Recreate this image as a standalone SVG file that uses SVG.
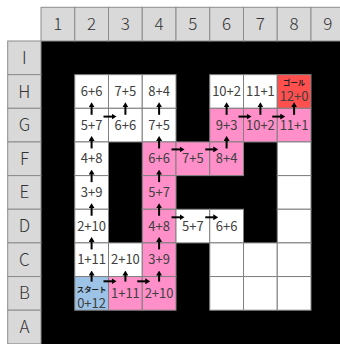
<svg xmlns="http://www.w3.org/2000/svg" width="340" height="344" viewBox="0 0 340 344">
<style>
.hd{fill:#d9d9d9;stroke:#8c8c8c;stroke-width:1}
.hl{font-family:"Noto Sans CJK JP","Noto Sans",sans-serif;font-size:17px;font-weight:300;fill:#333;text-anchor:middle}
.w{fill:#ffffff;stroke:#808080;stroke-width:1}
.p{fill:#ff8fc9;stroke:#808080;stroke-width:1}
.s{fill:#9dc3e6;stroke:#808080;stroke-width:1}
.g{fill:#ff4f4f;stroke:#808080;stroke-width:1}
.t{font-family:"Noto Sans CJK JP","Noto Sans",sans-serif;font-size:13px;fill:#404040;text-anchor:middle}
.j{font-family:"Noto Sans CJK JP",sans-serif;font-size:7.4px;font-weight:bold;fill:#222;text-anchor:middle}
.a{stroke:#000;stroke-width:2;fill:none;marker-end:url(#ah)}
</style>
<defs>
<marker id="ah" viewBox="0 0 5 6" refX="0.5" refY="3" markerWidth="5" markerHeight="6" markerUnits="userSpaceOnUse" orient="auto">
<path d="M0,0 L5,3 L0,6 z" fill="#000"/>
</marker>
</defs>
<rect x="0" y="0" width="340" height="344" fill="#fff"/>
<rect x="41" y="41" width="299" height="303" fill="#000"/>
<g id="col-headers">
<rect class="hd" x="41" y="7.3" width="33.75" height="33.7"/>
<rect class="hd" x="74.75" y="7.3" width="33.75" height="33.7"/>
<rect class="hd" x="108.5" y="7.3" width="33.75" height="33.7"/>
<rect class="hd" x="142.25" y="7.3" width="33.75" height="33.7"/>
<rect class="hd" x="176" y="7.3" width="33.75" height="33.7"/>
<rect class="hd" x="209.75" y="7.3" width="33.75" height="33.7"/>
<rect class="hd" x="243.5" y="7.3" width="33.75" height="33.7"/>
<rect class="hd" x="277.25" y="7.3" width="33.75" height="33.7"/>
<rect class="hd" x="311" y="7.3" width="33.75" height="33.7"/>
<text class="hl" x="57.9" y="30.2">1</text>
<text class="hl" x="91.6" y="30.2">2</text>
<text class="hl" x="125.4" y="30.2">3</text>
<text class="hl" x="159.1" y="30.2">4</text>
<text class="hl" x="192.9" y="30.2">5</text>
<text class="hl" x="226.6" y="30.2">6</text>
<text class="hl" x="260.4" y="30.2">7</text>
<text class="hl" x="294.1" y="30.2">8</text>
<text class="hl" x="327.9" y="30.2">9</text>
</g>
<g id="row-headers">
<rect class="hd" x="7.7" y="41" width="33.3" height="33.65"/>
<rect class="hd" x="7.7" y="74.65" width="33.3" height="33.65"/>
<rect class="hd" x="7.7" y="108.3" width="33.3" height="33.65"/>
<rect class="hd" x="7.7" y="141.95" width="33.3" height="33.65"/>
<rect class="hd" x="7.7" y="175.6" width="33.3" height="33.65"/>
<rect class="hd" x="7.7" y="209.25" width="33.3" height="33.65"/>
<rect class="hd" x="7.7" y="242.9" width="33.3" height="33.65"/>
<rect class="hd" x="7.7" y="276.55" width="33.3" height="33.65"/>
<rect class="hd" x="7.7" y="310.2" width="33.3" height="33.65"/>
<text class="hl" x="24.4" y="63.8">I</text>
<text class="hl" x="24.4" y="97.5">H</text>
<text class="hl" x="24.4" y="131.1">G</text>
<text class="hl" x="24.4" y="164.8">F</text>
<text class="hl" x="24.4" y="198.4">E</text>
<text class="hl" x="24.4" y="232.1">D</text>
<text class="hl" x="24.4" y="265.7">C</text>
<text class="hl" x="24.4" y="299.4">B</text>
<text class="hl" x="24.4" y="333">A</text>
</g>
<!-- Row H -->
<g id="H2"><rect class="w" x="74.75" y="74.65" width="33.75" height="33.65"/><text class="t" x="91.6" y="96.1">6+6</text></g>
<g id="H3"><rect class="w" x="108.5" y="74.65" width="33.75" height="33.65"/><text class="t" x="125.4" y="96.1">7+5</text></g>
<g id="H4"><rect class="w" x="142.25" y="74.65" width="33.75" height="33.65"/><text class="t" x="159.1" y="96.1">8+4</text></g>
<g id="H6"><rect class="w" x="209.75" y="74.65" width="33.75" height="33.65"/><text class="t" x="226.6" y="96.1">10+2</text></g>
<g id="H7"><rect class="w" x="243.5" y="74.65" width="33.75" height="33.65"/><text class="t" x="260.4" y="96.1">11+1</text></g>
<g id="H8"><rect class="g" x="277.25" y="74.65" width="33.75" height="33.65"/><text class="j" x="294.1" y="84.9">ゴール</text><text class="t" x="294.1" y="101.4">12+0</text></g>
<!-- Row G -->
<g id="G2"><rect class="w" x="74.75" y="108.3" width="33.75" height="33.65"/><text class="t" x="91.6" y="129.7">5+7</text></g>
<g id="G3"><rect class="w" x="108.5" y="108.3" width="33.75" height="33.65"/><text class="t" x="125.4" y="129.7">6+6</text></g>
<g id="G4"><rect class="w" x="142.25" y="108.3" width="33.75" height="33.65"/><text class="t" x="159.1" y="129.7">7+5</text></g>
<g id="G6"><rect class="p" x="209.75" y="108.3" width="33.75" height="33.65"/><text class="t" x="226.6" y="129.7">9+3</text></g>
<g id="G7"><rect class="p" x="243.5" y="108.3" width="33.75" height="33.65"/><text class="t" x="260.4" y="129.7">10+2</text></g>
<g id="G8"><rect class="p" x="277.25" y="108.3" width="33.75" height="33.65"/><text class="t" x="294.1" y="129.7">11+1</text></g>
<!-- Row F -->
<g id="F2"><rect class="w" x="74.75" y="141.95" width="33.75" height="33.65"/><text class="t" x="91.6" y="163.4">4+8</text></g>
<g id="F4"><rect class="p" x="142.25" y="141.95" width="33.75" height="33.65"/><text class="t" x="159.1" y="163.4">6+6</text></g>
<g id="F5"><rect class="p" x="176" y="141.95" width="33.75" height="33.65"/><text class="t" x="192.9" y="163.4">7+5</text></g>
<g id="F6"><rect class="p" x="209.75" y="141.95" width="33.75" height="33.65"/><text class="t" x="226.6" y="163.4">8+4</text></g>
<g id="F8"><rect class="w" x="277.25" y="141.95" width="33.75" height="33.65"/></g>
<!-- Row E -->
<g id="E2"><rect class="w" x="74.75" y="175.6" width="33.75" height="33.65"/><text class="t" x="91.6" y="197">3+9</text></g>
<g id="E4"><rect class="p" x="142.25" y="175.6" width="33.75" height="33.65"/><text class="t" x="159.1" y="197">5+7</text></g>
<g id="E8"><rect class="w" x="277.25" y="175.6" width="33.75" height="33.65"/></g>
<!-- Row D -->
<g id="D2"><rect class="w" x="74.75" y="209.25" width="33.75" height="33.65"/><text class="t" x="91.6" y="230.7">2+10</text></g>
<g id="D4"><rect class="p" x="142.25" y="209.25" width="33.75" height="33.65"/><text class="t" x="159.1" y="230.7">4+8</text></g>
<g id="D5"><rect class="w" x="176" y="209.25" width="33.75" height="33.65"/><text class="t" x="192.9" y="230.7">5+7</text></g>
<g id="D6"><rect class="w" x="209.75" y="209.25" width="33.75" height="33.65"/><text class="t" x="226.6" y="230.7">6+6</text></g>
<g id="D8"><rect class="w" x="277.25" y="209.25" width="33.75" height="33.65"/></g>
<!-- Row C -->
<g id="C2"><rect class="w" x="74.75" y="242.9" width="33.75" height="33.65"/><text class="t" x="91.6" y="264.3">1+11</text></g>
<g id="C3"><rect class="w" x="108.5" y="242.9" width="33.75" height="33.65"/><text class="t" x="125.4" y="264.3">2+10</text></g>
<g id="C4"><rect class="p" x="142.25" y="242.9" width="33.75" height="33.65"/><text class="t" x="159.1" y="264.3">3+9</text></g>
<g id="C6"><rect class="w" x="209.75" y="242.9" width="33.75" height="33.65"/></g>
<g id="C7"><rect class="w" x="243.5" y="242.9" width="33.75" height="33.65"/></g>
<g id="C8"><rect class="w" x="277.25" y="242.9" width="33.75" height="33.65"/></g>
<!-- Row B -->
<g id="B2"><rect class="s" x="74.75" y="276.55" width="33.75" height="33.65"/><text class="j" x="91.6" y="291.8">スタート</text><text class="t" x="91.6" y="308">0+12</text></g>
<g id="B3"><rect class="p" x="108.5" y="276.55" width="33.75" height="33.65"/><text class="t" x="125.4" y="297.8">1+11</text></g>
<g id="B4"><rect class="p" x="142.25" y="276.55" width="33.75" height="33.65"/><text class="t" x="159.1" y="297.8">2+10</text></g>
<g id="B6"><rect class="w" x="209.75" y="276.55" width="33.75" height="33.65"/></g>
<g id="B7"><rect class="w" x="243.5" y="276.55" width="33.75" height="33.65"/></g>
<g id="B8"><rect class="w" x="277.25" y="276.55" width="33.75" height="33.65"/></g>
<g id="connectors">
<line class="a" x1="91.6" y1="114.8" x2="91.6" y2="106.8"/>
<line class="a" x1="125.4" y1="114.8" x2="125.4" y2="106.8"/>
<line class="a" x1="159.1" y1="114.8" x2="159.1" y2="106.8"/>
<line class="a" x1="226.6" y1="114.8" x2="226.6" y2="106.8"/>
<line class="a" x1="260.4" y1="114.8" x2="260.4" y2="106.8"/>
<line class="a" x1="294.1" y1="114.8" x2="294.1" y2="106.8"/>
<line class="a" x1="91.6" y1="148.45" x2="91.6" y2="140.45"/>
<line class="a" x1="159.1" y1="148.45" x2="159.1" y2="140.45"/>
<line class="a" x1="226.6" y1="148.45" x2="226.6" y2="140.45"/>
<line class="a" x1="91.6" y1="182.1" x2="91.6" y2="174.1"/>
<line class="a" x1="159.1" y1="182.1" x2="159.1" y2="174.1"/>
<line class="a" x1="91.6" y1="215.75" x2="91.6" y2="207.75"/>
<line class="a" x1="159.1" y1="215.75" x2="159.1" y2="207.75"/>
<line class="a" x1="91.6" y1="249.4" x2="91.6" y2="241.4"/>
<line class="a" x1="159.1" y1="249.4" x2="159.1" y2="241.4"/>
<line class="a" x1="91.6" y1="281.6" x2="91.6" y2="275.05"/>
<line class="a" x1="125.4" y1="281.6" x2="125.4" y2="275.05"/>
<line class="a" x1="159.1" y1="281.6" x2="159.1" y2="275.05"/>
<line class="a" x1="103.5" y1="116.6" x2="112" y2="116.6"/>
<line class="a" x1="238.5" y1="116.6" x2="247" y2="116.6"/>
<line class="a" x1="272.25" y1="116.6" x2="280.75" y2="116.6"/>
<line class="a" x1="171.5" y1="149.4" x2="180" y2="149.4"/>
<line class="a" x1="205.25" y1="149.4" x2="213.75" y2="149.4"/>
<line class="a" x1="171.5" y1="217.3" x2="180" y2="217.3"/>
<line class="a" x1="205.25" y1="217.3" x2="213.75" y2="217.3"/>
<line class="a" x1="103.5" y1="281.3" x2="112" y2="281.3"/>
<line class="a" x1="137.25" y1="281.3" x2="145.75" y2="281.3"/>
</g>
</svg>
